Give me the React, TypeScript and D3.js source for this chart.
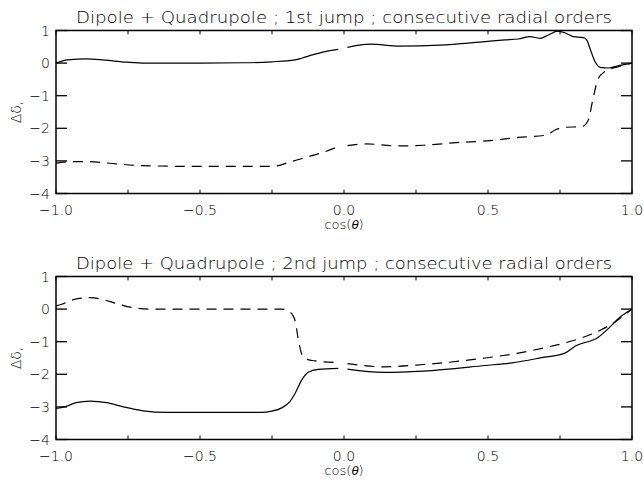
import React from "react";
import * as d3 from "d3";

// ---- Data ----
const xTicksMajor = [-1.0, -0.5, 0.0, 0.5, 1.0];
const xTickLabels = ["−1.0", "−0.5", "0.0", "0.5", "1.0"];
const xTicksMinor = [-0.75, -0.25, 0.25, 0.75];
const yTicks = [-4, -3, -2, -1, 0, 1];
const yTickLabels = ["−4", "−3", "−2", "−1", "0", "1"];

const titles = [
  "Dipole + Quadrupole ; 1st jump ; consecutive radial orders",
  "Dipole + Quadrupole ; 2nd jump ; consecutive radial orders",
];
const xLabelPre = "cos(";
const xLabelSym = "θ";
const xLabelPost = ")";
const yLabel = "Δδ,";

// 1st jump, solid
const jump1SolidX = [-1.0, -0.96, -0.893, -0.83, -0.755, -0.69, -0.5, -0.35, -0.251, -0.17, -0.147, -0.11, -0.077, -0.02, 0.0, 0.012, 0.09, 0.194, 0.333, 0.49, 0.559, 0.605, 0.646, 0.681, 0.709, 0.742, 0.767, 0.796, 0.831, 0.842, 0.858, 0.872, 0.889, 0.918, 0.953, 1.0];
const jump1SolidY = [0.0, 0.1, 0.13, 0.09, 0.03, 0.0, 0.0, 0.01, 0.04, 0.1, 0.15, 0.25, 0.33, 0.42, null, 0.48, 0.58, 0.52, 0.55, 0.66, 0.71, 0.74, 0.81, 0.76, 0.86, 0.98, 0.93, 0.81, 0.78, 0.72, 0.35, 0.04, -0.13, -0.15, -0.08, 0.0];
// 1st jump, dashed
const jump1DashX = [-1.0, -0.96, -0.905, -0.79, -0.72, -0.5, -0.25, -0.182, -0.124, -0.077, -0.02, 0.0, 0.012, 0.079, 0.183, 0.275, 0.39, 0.507, 0.605, 0.703, 0.733, 0.767, 0.825, 0.848, 0.866, 0.883, 0.906, 0.953, 1.0];
const jump1DashY = [-3.07, -3.03, -3.02, -3.09, -3.14, -3.17, -3.17, -3.02, -2.87, -2.75, -2.56, null, -2.53, -2.48, -2.54, -2.52, -2.44, -2.38, -2.28, -2.21, -2.05, -1.97, -1.95, -1.75, -1.03, -0.47, -0.26, -0.11, 0.0];
// 2nd jump, solid
const jump2SolidX = [-1.0, -0.97, -0.93, -0.882, -0.824, -0.766, -0.697, -0.616, -0.5, -0.286, -0.251, -0.216, -0.188, -0.17, -0.147, -0.124, -0.09, -0.02, 0.0, 0.012, 0.137, 0.275, 0.49, 0.582, 0.686, 0.767, 0.802, 0.883, 0.918, 0.953, 1.0];
const jump2SolidY = [-3.05, -3.0, -2.87, -2.82, -2.87, -3.0, -3.12, -3.17, -3.17, -3.17, -3.13, -3.03, -2.84, -2.59, -2.18, -1.94, -1.85, -1.82, null, -1.84, -1.94, -1.9, -1.73, -1.65, -1.49, -1.35, -1.14, -0.86, -0.6, -0.29, 0.0];
// 2nd jump, dashed
const jump2DashX = [-1.0, -0.98, -0.94, -0.882, -0.836, -0.79, -0.73, -0.674, -0.5, -0.216, -0.188, -0.17, -0.16, -0.149, -0.135, -0.1, -0.02, 0.0, 0.012, 0.137, 0.275, 0.49, 0.605, 0.72, 0.79, 0.87, 0.94, 1.0];
const jump2DashY = [0.1, 0.15, 0.29, 0.35, 0.29, 0.17, 0.04, 0.0, 0.0, 0.0, -0.09, -0.35, -0.86, -1.32, -1.52, -1.59, -1.64, null, -1.67, -1.77, -1.7, -1.5, -1.35, -1.14, -0.98, -0.73, -0.4, 0.0];

type Pt = { x: number; y: number | null };
const zip = (xs: number[], ys: (number | null)[]): Pt[] => xs.map((x, i) => ({ x, y: ys[i] }));

const panels = [
  { title: titles[0], top: 30.5, bottom: 193.5, solid: zip(jump1SolidX, jump1SolidY), dash: zip(jump1DashX, jump1DashY) },
  { title: titles[1], top: 276.5, bottom: 439.5, solid: zip(jump2SolidX, jump2SolidY), dash: zip(jump2DashX, jump2DashY) },
];

const LEFT = 56;
const RIGHT = 632;
const FONT = "DejaVu Sans, sans-serif";
const TXT = "#000";

function Panel({ p }: { p: (typeof panels)[number] }) {
  const x = d3.scaleLinear().domain([-1, 1]).range([LEFT, RIGHT]);
  const y = d3.scaleLinear().domain([-4, 1]).range([p.bottom, p.top]);
  const line = d3
    .line<Pt>()
    .defined((d) => d.y !== null)
    .x((d) => x(d.x))
    .y((d) => y(d.y as number))
    .curve(d3.curveMonotoneX);
  const cx = (LEFT + RIGHT) / 2;
  const cy = (p.top + p.bottom) / 2;
  const allX = [...xTicksMajor, ...xTicksMinor];
  return (
    <g>
      <text x={cx} y={p.top - 8} textAnchor="middle" fontSize={16} fontWeight={200} fill={TXT} fontFamily={FONT} textLength={536} lengthAdjust="spacingAndGlyphs">
        {p.title}
      </text>
      <path d={line(p.solid) || ""} fill="none" stroke="#000" strokeWidth={1.2} />
      <path d={line(p.dash) || ""} fill="none" stroke="#000" strokeWidth={1.2} strokeDasharray="10,7" />
      <rect x={LEFT} y={p.top} width={RIGHT - LEFT} height={p.bottom - p.top} fill="none" stroke="#000" strokeWidth={1.5} />
      {allX.map((t) => (
        <g key={"xt" + t}>
          <line x1={x(t)} x2={x(t)} y1={p.bottom} y2={p.bottom - 4} stroke="#000" strokeWidth={1} />
          <line x1={x(t)} x2={x(t)} y1={p.top} y2={p.top + 4} stroke="#000" strokeWidth={1} />
        </g>
      ))}
      {yTicks.map((t) => (
        <g key={"yt" + t}>
          <line x1={LEFT} x2={LEFT + 11} y1={y(t)} y2={y(t)} stroke="#000" strokeWidth={1.3} />
          <line x1={RIGHT} x2={RIGHT - 11} y1={y(t)} y2={y(t)} stroke="#000" strokeWidth={1.3} />
        </g>
      ))}
      {yTicks.map((t, i) => (
        <text key={"yl" + t} x={LEFT - 6} y={y(t) + 5} textAnchor="end" fontSize={14} fontWeight={200} fill={TXT} fontFamily={FONT}>
          {yTickLabels[i]}
        </text>
      ))}
      {xTicksMajor.map((t, i) => (
        <text key={"xl" + t} x={x(t)} y={p.bottom + 21} textAnchor="middle" fontSize={14} fontWeight={200} fill={TXT} fontFamily={FONT}>
          {xTickLabels[i]}
        </text>
      ))}
      <text x={x(0)} y={p.bottom + 35} textAnchor="middle" fontSize={13} fontWeight={200} fill={TXT} fontFamily={FONT}>
        {xLabelPre}
        <tspan fontStyle="italic" fontWeight={400} fontFamily="Liberation Sans, sans-serif">{xLabelSym}</tspan>
        {xLabelPost}
      </text>
      <text transform={`translate(21,${cy}) rotate(-90)`} textAnchor="middle" fontSize={14} fontWeight={200} fill={TXT} fontFamily={FONT}>
        {yLabel}
      </text>
    </g>
  );
}

export default function App() {
  return (
    <svg width={644} height={482} style={{ position: "absolute", left: 0, top: 0, background: "#fff" }}>
      <rect x={0} y={0} width={644} height={482} fill="#fff" />
      {panels.map((p, i) => (
        <Panel key={i} p={p} />
      ))}
    </svg>
  );
}
